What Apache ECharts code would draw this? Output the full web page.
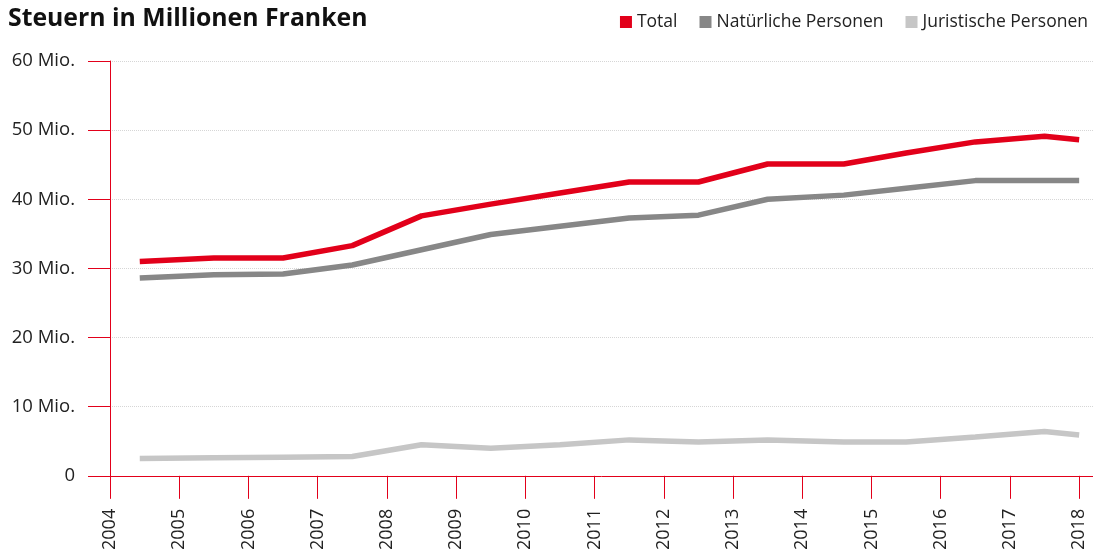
<!DOCTYPE html>
<html>
<head lang="de">
    <meta charset="UTF-8">
    <title>Steuern in Millionen Franken</title>
    <style>
        html, body { margin: 0; padding: 0; background: #fff; }
        #container { width: 1093px; height: 553px; }
    </style>
</head>
<body>
<div id="container"></div>
<script type="text/javascript" src="https://cdn.jsdelivr.net/npm/echarts@6/dist/echarts.min.js"></script>
<script type="text/javascript">
    // Zeitpunkte (Jahr, Mitte des Jahres), letzter Wert Anfang 2018
    var jahre = [2004.43, 2005.5, 2006.5, 2007.5, 2008.5, 2009.5, 2010.5, 2011.5, 2012.5, 2013.5, 2014.6, 2015.5, 2016.5, 2017.5, 2018.0];
    var total = [31.0, 31.5, 31.5, 33.3, 37.6, 39.3, 40.9, 42.5, 42.5, 45.1, 45.1, 46.7, 48.3, 49.1, 48.6];
    var natuerlich = [28.6, 29.1, 29.2, 30.5, 32.7, 34.9, 36.1, 37.3, 37.7, 40.0, 40.6, 41.6, 42.7, 42.7, 42.7];
    var juristisch = [2.5, 2.6, 2.7, 2.8, 4.5, 4.0, 4.5, 5.2, 4.9, 5.2, 4.9, 4.9, 5.6, 6.4, 5.9];
    var tickJahre = [2004, 2005, 2006, 2007, 2008, 2009, 2010, 2011, 2012, 2013, 2014, 2015, 2016, 2017, 2018];
    var namen = ['Total', 'Natürliche Personen', 'Juristische Personen'];
    var farben = ['#e2001a', '#878787', '#c6c6c6'];

    function paare(werte) {
        return werte.map(function (v, i) {
            return [jahre[i], v];
        });
    }

    var dom = document.getElementById("container");
    var myChart = echarts.init(dom);
    var rot = '#e2001a';
    var schrift = '"Open Sans", "Noto Sans", sans-serif';

    var option = {
        animation: false,
        color: farben,
        title: {
            text: 'Steuern in Millionen Franken',
            left: 3,
            top: 1,
            textStyle: {
                fontFamily: schrift,
                fontSize: 24.8,
                fontWeight: 'bold',
                color: '#111'
            }
        },
        legend: {
            data: namen,
            right: 0,
            top: 8,
            icon: 'rect',
            itemWidth: 12,
            itemHeight: 12,
            itemGap: 22,
            textStyle: {
                fontFamily: schrift,
                fontSize: 17.5,
                color: '#222'
            }
        },
        grid: {
            left: 110,
            right: 0,
            top: 61,
            bottom: 76
        },
        xAxis: {
            type: 'value',
            min: 2004,
            max: 2018.2,
            interval: 1,
            axisLine: { lineStyle: { color: rot, width: 1 } },
            axisTick: { length: 23, lineStyle: { color: rot }, customValues: tickJahre },
            axisLabel: {
                rotate: 90,
                margin: 33,
                fontFamily: schrift,
                fontSize: 18,
                color: '#222',
                customValues: tickJahre,
                formatter: function (v) { return String(v); }
            },
            splitLine: { show: false }
        },
        yAxis: {
            type: 'value',
            min: 0,
            max: 60,
            interval: 10,
            axisLine: { show: true, lineStyle: { color: rot, width: 1 } },
            axisTick: { show: true, length: 22, lineStyle: { color: rot } },
            axisLabel: {
                margin: 35,
                fontFamily: schrift,
                fontSize: 18.5,
                color: '#222',
                formatter: function (v) { return v === 0 ? '0' : v + ' Mio.'; }
            },
            splitLine: { lineStyle: { color: '#d6d6d6', type: 'dotted' } }
        },
        series: [
            { name: namen[0], type: 'line', data: paare(total), showSymbol: false, lineStyle: { width: 5.5 } },
            { name: namen[1], type: 'line', data: paare(natuerlich), showSymbol: false, lineStyle: { width: 5.5 } },
            { name: namen[2], type: 'line', data: paare(juristisch), showSymbol: false, lineStyle: { width: 5.5 } }
        ]
    };
    myChart.setOption(option);
</script>
</body>
</html>
